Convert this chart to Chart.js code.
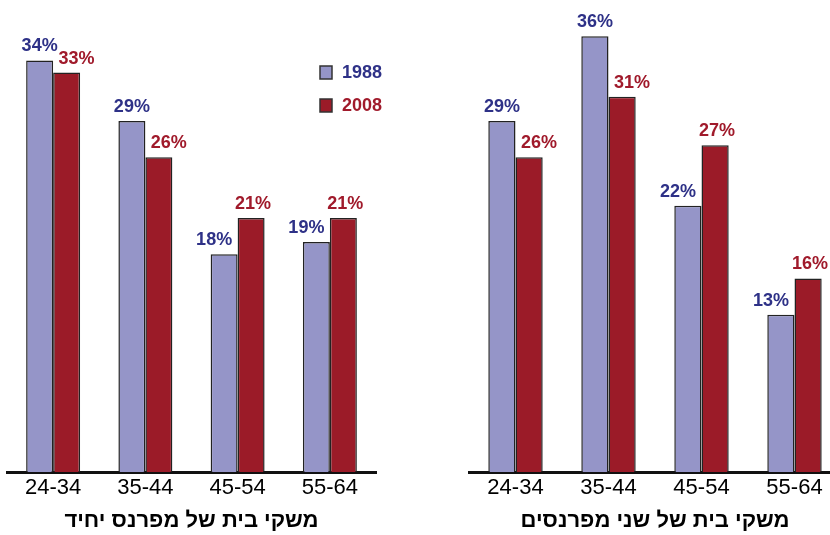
<!DOCTYPE html>
<html>
<head>
<meta charset="utf-8">
<script src="https://cdn.jsdelivr.net/npm/chart.js"></script>
<style>
  html, body { margin: 0; padding: 0; background: #fff; overflow: hidden; width: 830px; height: 535px; }
  .box { position: absolute; top: 0; height: 535px; }
</style>
</head>
<body>
<div class="box" style="left:0;width:420px"><canvas id="left"></canvas></div>
<div class="box" style="left:460px;width:386px"><canvas id="right"></canvas></div>
<script>
  const ageGroups = ['24-34', '35-44', '45-54', '55-64'];
  const seriesYears = ['1988', '2008'];
  const singleEarner1988 = [34, 29, 18, 19];
  const singleEarner2008 = [33, 26, 21, 21];
  const dualEarner1988 = [29, 36, 22, 13];
  const dualEarner2008 = [26, 31, 27, 16];
  const titleSingle = 'משקי בית של מפרנס יחיד';
  const titleDual = 'משקי בית של שני מפרנסים';

  const FILL = ['#9595c8', '#9b1b28'];
  const TEXT = ['#2e3187', '#a01a2b'];
  const FONT = '"Liberation Sans", Arial, sans-serif';

  // value labels above bars, nudged away from the taller neighbour
  const valueLabels = {
    id: 'valueLabels',
    afterDatasetsDraw(chart) {
      const ctx = chart.ctx;
      const ds = chart.data.datasets;
      ctx.save();
      ctx.font = 'bold 18px ' + FONT;
      ctx.textAlign = 'center';
      ctx.textBaseline = 'bottom';
      ds.forEach((d, i) => {
        const meta = chart.getDatasetMeta(i);
        const other = ds[1 - i].data;
        ctx.fillStyle = TEXT[i];
        meta.data.forEach((bar, j) => {
          let dx;
          if (i === 0) dx = other[j] > d.data[j] ? -10 : 0;
          else dx = other[j] > d.data[j] ? 10 : 2;
          ctx.fillText(d.data[j] + '%', bar.x + dx, bar.y - 5);
        });
      });
      ctx.restore();
    }
  };

  // legend box drawn inside the left panel
  const cornerLegend = {
    id: 'cornerLegend',
    afterDraw(chart, args, opts) {
      if (!opts.show) return;
      const ctx = chart.ctx;
      ctx.save();
      ctx.font = 'bold 18px ' + FONT;
      ctx.textBaseline = 'middle';
      seriesYears.forEach((yr, i) => {
        const y = 72 + i * 33;
        ctx.fillStyle = FILL[i];
        ctx.fillRect(320, y - 6, 12, 13);
        ctx.strokeStyle = '#333';
        ctx.lineWidth = 1.5;
        ctx.strokeRect(320, y - 6, 12, 13);
        ctx.fillStyle = TEXT[i];
        ctx.fillText(yr, 342, y + 1);
      });
      ctx.restore();
    }
  };

  function makeChart(id, a, b, title, showLegend, pad) {
    return new Chart(document.getElementById(id), {
      type: 'bar',
      data: {
        labels: ageGroups,
        datasets: [
          { label: seriesYears[0], data: a, backgroundColor: FILL[0] },
          { label: seriesYears[1], data: b, backgroundColor: FILL[1] }
        ]
      },
      options: {
        responsive: true,
        maintainAspectRatio: false,
        animation: false,
        layout: { padding: pad },
        datasets: {
          bar: {
            borderColor: '#222',
            borderWidth: 1.5,
            barPercentage: 1,
            categoryPercentage: 0.585
          }
        },
        plugins: {
          legend: { display: false },
          tooltip: { enabled: false },
          cornerLegend: { show: showLegend },
          title: {
            display: true,
            position: 'bottom',
            text: title,
            color: '#000',
            font: { family: FONT, size: 22, weight: 'bold' },
            padding: { top: 3, bottom: 1 }
          }
        },
        scales: {
          y: { display: false, min: 0, max: 38 },
          x: {
            grid: { display: false, drawTicks: false },
            border: { display: true, color: '#111', width: 3 },
            ticks: { color: '#000', font: { family: FONT, size: 22 }, padding: 3 }
          }
        }
      },
      plugins: [valueLabels, cornerLegend]
    });
  }

  makeChart('left', singleEarner1988, singleEarner2008, titleSingle, true, { top: 12, left: 7, right: 44, bottom: 0 });
  makeChart('right', dualEarner1988, dualEarner2008, titleDual, false, { top: 12, left: 9, right: 5, bottom: 0 });
</script>
</body>
</html>
